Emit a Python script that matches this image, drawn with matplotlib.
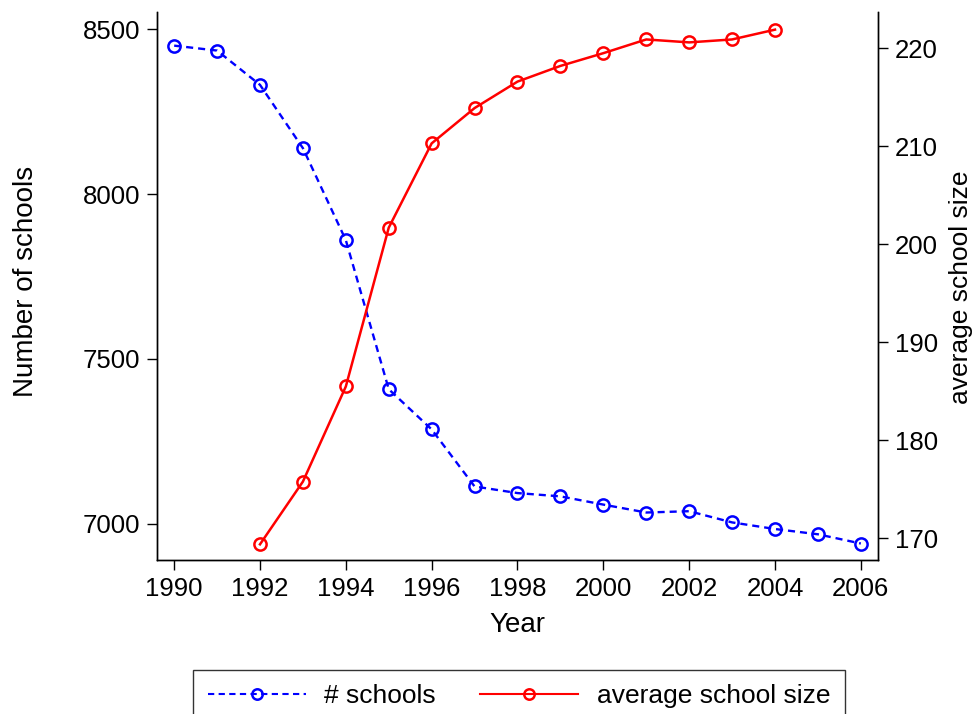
import matplotlib
matplotlib.use("Agg")
import matplotlib.pyplot as plt

plt.rcParams['font.family'] = ['Liberation Sans', 'DejaVu Sans']

# values
years_schools = [1990, 1991, 1992, 1993, 1994, 1995, 1996, 1997, 1998,
                 1999, 2000, 2001, 2002, 2003, 2004, 2005, 2006]
n_schools = [8450, 8435, 8331, 8139, 7860, 7408, 7286, 7113, 7093,
             7083, 7058, 7034, 7038, 7004, 6984, 6968, 6940]

years_size = [1992, 1993, 1994, 1995, 1996, 1997, 1998,
              1999, 2000, 2001, 2002, 2003, 2004]
avg_size = [169.4, 175.8, 185.5, 201.7, 210.3, 213.9, 216.6,
            218.2, 219.5, 220.9, 220.6, 220.9, 221.9]

x_ticks = list(range(1990, 2007, 2))
left_ticks = [7000, 7500, 8000, 8500]
right_ticks = [170, 180, 190, 200, 210, 220]

fs_tick = 18.5
fs_title = 20
fs_leg = 19

fig = plt.figure(figsize=(9.76, 7.14), dpi=100)
ax = fig.add_axes([157 / 976, 1 - 560 / 714, (878 - 157) / 976, (560 - 12) / 714])
ax2 = ax.twinx()

l1, = ax.plot(years_schools, n_schools, color='blue', lw=1.7, ls=(0, (3.0, 2.1)),
              marker='o', ms=8.8, mfc='none', mec='blue', mew=1.8, label='# schools')
l2, = ax2.plot(years_size, avg_size, color='red', lw=1.8, marker='o', ms=8.8,
               mfc='none', mec='red', mew=1.8, label='average school size')

ax.set_xlim(1989.6, 2006.4)
ax.set_ylim(6890, 8552)
ax2.set_ylim(167.8, 223.7)

ax.set_xticks(x_ticks)
ax.set_yticks(left_ticks)
ax2.set_yticks(right_ticks)

for a in (ax, ax2):
    a.spines['top'].set_visible(False)
    for s in a.spines.values():
        s.set_linewidth(1.0)
    a.tick_params(direction='out', length=7, width=1.0, labelsize=fs_tick, pad=5)

ax.set_xlabel('Year', fontsize=fs_title)
ax.xaxis.set_label_coords(0.5, -0.094)
ax.set_ylabel('Number of schools', fontsize=fs_title)
ax.yaxis.set_label_coords(-0.164, 0.509)
ax2.set_ylabel('average school size', fontsize=fs_title - 1)
ax2.yaxis.set_label_coords(1.099, 0.497)

leg = fig.legend(handles=[l1, l2], loc='upper center', ncol=2,
                 bbox_to_anchor=(519 / 976, 1 - 669.5 / 714),
                 fontsize=fs_leg, frameon=True, fancybox=False, numpoints=1,
                 handlelength=3.7, handletextpad=0.7, columnspacing=1.7,
                 borderpad=0.55, borderaxespad=0)
leg.get_frame().set_edgecolor('black')
leg.get_frame().set_linewidth(1.0)
for h in leg.legend_handles:
    h.set_markersize(7.5)
    h.set_linewidth(1.5)

fig.savefig('out.png', dpi=100)
